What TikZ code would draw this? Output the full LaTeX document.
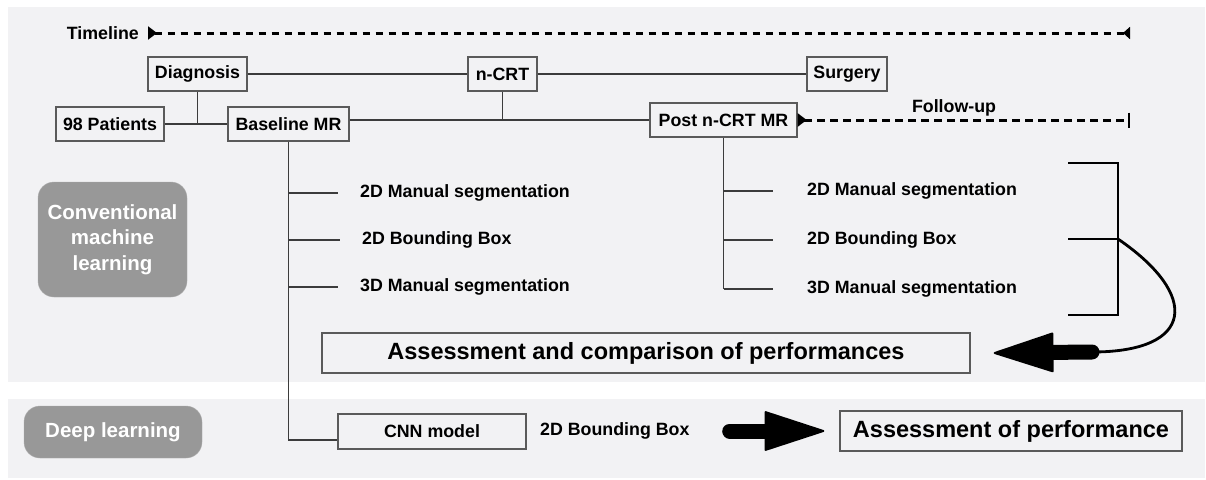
\documentclass[tikz,border=0pt]{standalone}
\usepackage{fontspec}
\setmainfont{Liberation Sans}
\usepackage{tikz}
\usetikzlibrary{arrows.meta}
\definecolor{panelgray}{RGB}{242,242,244}
\definecolor{taggray}{RGB}{152,152,152}
\definecolor{boxline}{RGB}{90,90,90}
\definecolor{linkgray}{RGB}{60,60,60}
\tikzset{
  lbl/.style={font=\bfseries\fontsize{17.8}{21}\selectfont},
  box/.style={lbl, draw=boxline, line width=1.4pt, inner sep=0pt, minimum height=34pt},
  bigbox/.style={box, font=\bfseries\fontsize{23.5}{28}\selectfont, minimum height=40pt},
  tag/.style={fill=taggray, draw=taggray!80!white, rounded corners=16pt, text=white, align=center,
    font=\bfseries\fontsize{20.5}{25.5}\selectfont, inner sep=0pt},
  branchtext/.style={lbl, anchor=west, inner sep=0pt},
  link/.style={draw=linkgray, line width=1.3pt},
  tlline/.style={line width=3pt, dash pattern=on 7.5pt off 5.5pt},
  brace/.style={line width=2.8pt},
  fatarrow/.style={line width=15pt, line cap=round, -{Triangle[length=62pt,width=40pt,line width=2pt,round]}}
}
\begin{document}
\begin{tikzpicture}[x=1pt,y=-1pt]
\fill[white] (0,0) rectangle (1206,479);
\fill[panelgray] (8,7) rectangle (1205,382);
\fill[panelgray] (8,399) rectangle (1205,478);
\useasboundingbox (0,0) rectangle (1206,479);

\node[lbl, anchor=east, inner sep=0pt] (tl) at (139,33) {Timeline};
\coordinate (tlend) at (1130,33);
\node[box, minimum width=99pt] (diag) at (197.5,74) {Diagnosis};
\node[box, minimum width=69pt] (ncrt) at (502.5,74) {n-CRT};
\node[box, minimum width=80pt] (surg) at (847,74) {Surgery};
\node[box, minimum width=108pt] (pat) at (110,124) {98 Patients};
\node[box, minimum width=121pt] (base) at (288.5,124) {Baseline MR};
\node[box, minimum width=147pt] (post) at (723.5,120) {Post n-CRT MR};
\coordinate (fuend) at (1130,120);
\node[lbl, inner sep=0pt] (fu) at (954,108) {Follow-up};

\node[tag, minimum width=149pt, minimum height=115pt] (cml) at (112.5,239.5) {Conventional\\machine\\learning};
\node[tag, minimum width=178pt, minimum height=52pt] (dl) at (113,432) {Deep learning};

\node[branchtext] (bl1) at (360,193) {2D Manual segmentation};
\node[branchtext] (bl2) at (362,240) {2D Bounding Box};
\node[branchtext] (bl3) at (360,287) {3D Manual segmentation};
\node[branchtext] (pr1) at (807,191) {2D Manual segmentation};
\node[branchtext] (pr2) at (807,240) {2D Bounding Box};
\node[branchtext] (pr3) at (807,289) {3D Manual segmentation};

\node[bigbox, minimum width=648pt] (comp) at (646,353) {Assessment and comparison of performances};
\node[box, minimum width=188pt, minimum height=35pt] (cnn) at (432,431.5) {CNN model};
\node[branchtext] (bb) at (540,431) {2D Bounding Box};
\node[bigbox, minimum width=342pt] (perf) at (1011,431) {Assessment of performance};

\draw[tlline, {Triangle[reversed,length=9pt,width=13pt]}-{Triangle[reversed,length=7pt,width=12pt]}] ([xshift=9pt]tl.east) -- (tlend);
\draw[tlline, {Triangle[reversed,length=9pt,width=13pt]}-{Bar[width=15pt,line width=2.2pt]}] (post.east) -- (fuend);

\foreach \from/\to in {diag/ncrt, ncrt/surg, pat/base}
\draw[link] (\from) -- (\to);
\draw[link] (diag) -- (diag |- pat);
\draw[link] (base.east |- post) -- (post);
\draw[link] (ncrt) -- (ncrt |- post);
\draw[link] (base) |- ([yshift=-8.5pt]cnn.west);
\draw[link] (post) -- (post |- pr3);
\foreach \n in {bl1,bl2,bl3}
\draw[link] (base |- \n) -- ([xshift=-22pt]\n.west);
\foreach \n in {pr1,pr2,pr3}
\draw[link] (post |- \n) -- ([xshift=-34pt]\n.west);

\draw[brace] (1068,163) -| (1118,315) -- (1068,315);
\draw[brace] (1068,239) -- (1118,239);
\coordinate (brk) at (1118,239);
\coordinate (tail) at (1092,352);
\draw[line width=2.8pt] (brk) .. controls (1200,295) and (1195,352) .. (tail);
\draw[fatarrow] (tail) -- ([xshift=23pt]comp.east);
\draw[fatarrow] ([xshift=40pt]bb.east) -- ([xshift=-15pt]perf.west);
\end{tikzpicture}
\end{document}
